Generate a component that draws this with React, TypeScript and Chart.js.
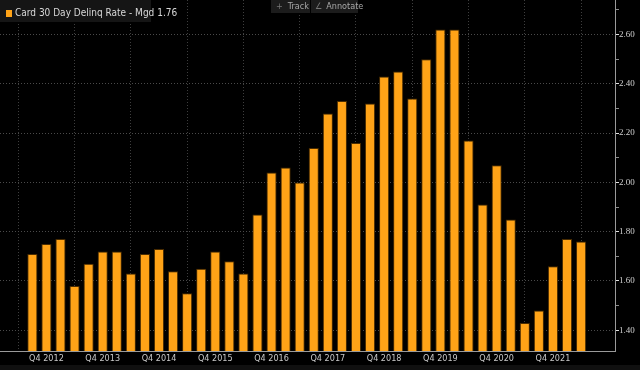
import React, { useEffect, useRef } from "react";
import { Chart, registerables } from "chart.js";

Chart.register(...registerables);

const QUARTERS = [
  "Q3 2012", "Q4 2012", "Q1 2013", "Q2 2013", "Q3 2013", "Q4 2013",
  "Q1 2014", "Q2 2014", "Q3 2014", "Q4 2014", "Q1 2015", "Q2 2015",
  "Q3 2015", "Q4 2015", "Q1 2016", "Q2 2016", "Q3 2016", "Q4 2016",
  "Q1 2017", "Q2 2017", "Q3 2017", "Q4 2017", "Q1 2018", "Q2 2018",
  "Q3 2018", "Q4 2018", "Q1 2019", "Q2 2019", "Q3 2019", "Q4 2019",
  "Q1 2020", "Q2 2020", "Q3 2020", "Q4 2020", "Q1 2021", "Q2 2021",
  "Q3 2021", "Q4 2021", "Q1 2022", "Q2 2022",
];

const RATES = [
  1.71, 1.75, 1.77, 1.58, 1.67, 1.72, 1.72, 1.63, 1.71, 1.73,
  1.64, 1.55, 1.65, 1.72, 1.68, 1.63, 1.87, 2.04, 2.06, 2.0,
  2.14, 2.28, 2.33, 2.16, 2.32, 2.43, 2.45, 2.34, 2.5, 2.62,
  2.62, 2.17, 1.91, 2.07, 1.85, 1.43, 1.48, 1.66, 1.77, 1.76,
];

const Y_TICKS = [1.4, 1.5, 1.6, 1.7, 1.8, 1.9, 2.0, 2.1, 2.2, 2.3, 2.4, 2.5, 2.6, 2.7];

const SERIES_NAME = "Card 30 Day Delinq Rate - Mgd";
const LAST_VALUE = "1.76";

const ORANGE = "#FFA317";
const NARROW = "'Liberation Sans Narrow', 'Arial Narrow', 'DejaVu Sans Condensed', 'Liberation Sans', sans-serif";
const SERIF = "'Liberation Serif', serif";

const isMajor = (v: number) => Math.abs(Math.round(v * 5) - v * 5) < 1e-6;

export default function App() {
  const canvasRef = useRef<HTMLCanvasElement | null>(null);

  useEffect(() => {
    const canvas = canvasRef.current;
    if (!canvas) return;
    const chart = new Chart(canvas, {
      type: "bar",
      data: {
        datasets: [
          {
            label: SERIES_NAME,
            data: RATES.map((v, i) => ({ x: i, y: v })),
            backgroundColor: ORANGE,
            borderColor: "#4a2c00",
            borderWidth: 1,
            barPercentage: 0.72,
            categoryPercentage: 1,
          },
        ],
      },
      options: {
        animation: false,
        responsive: false,
        maintainAspectRatio: false,
        layout: { padding: 0 },
        plugins: {
          legend: { display: false },
          tooltip: { enabled: false },
        },
        scales: {
          x: {
            type: "linear",
            min: -2.3,
            max: 41.41,
            offset: false,
            afterBuildTicks: (scale: any) => {
              scale.ticks = QUARTERS.map((q, i) => ({ value: i, q }))
                .filter((t) => t.q.startsWith("Q4"))
                .map((t) => ({ value: t.value }));
            },
            afterFit: (scale: any) => {
              scale.height = 19;
            },
            ticks: {
              autoSkip: false,
              maxRotation: 0,
              padding: 2,
              color: "#c8c8c8",
              font: { family: NARROW, size: 9 },
              callback: (v: any) => QUARTERS[Math.round(Number(v))] ?? "",
            },
            grid: {
              color: "#3e3e3e",
              drawTicks: false,
            } as any,
            border: { display: true, color: "#9a9a9a", width: 1, dash: [1, 2] } as any,
          },
          y: {
            type: "linear",
            position: "right",
            min: 1.316,
            max: 2.74,
            afterBuildTicks: (scale: any) => {
              scale.ticks = Y_TICKS.map((v) => ({ value: v }));
            },
            afterFit: (scale: any) => {
              scale.width = 25;
            },
            ticks: {
              padding: 0,
              color: "#d0d0d0",
              font: (ctx: any) =>
                ctx.tick && isMajor(ctx.tick.value)
                  ? { family: SERIF, size: 9 }
                  : { family: SERIF, size: 1, lineHeight: 0 },
              callback: (v: any) => (isMajor(Number(v)) ? Number(v).toFixed(2) : ""),
            },
            grid: {
              color: (ctx: any) => (ctx.tick && isMajor(ctx.tick.value) ? "#4a4a4a" : "rgba(0,0,0,0)"),
              tickColor: (ctx: any) => (ctx.tick && isMajor(ctx.tick.value) ? "#e0e0e0" : "#8a8a8a"),
              tickLength: 4,
              drawTicks: true,
            } as any,
            border: { display: true, color: "#9a9a9a", width: 1, dash: [1, 2] } as any,
          },
        },
      },
    });
    return () => chart.destroy();
  }, []);

  const btn: React.CSSProperties = {
    position: "absolute",
    top: 0,
    height: 13,
    background: "#1c1c1c",
    color: "#a8a8a8",
    fontFamily: NARROW,
    fontSize: 9,
    lineHeight: "13px",
    boxSizing: "border-box",
    whiteSpace: "nowrap",
  };

  return (
    <div
      style={{
        position: "absolute",
        left: 0,
        top: 0,
        width: 640,
        height: 370,
        background: "#000",
        overflow: "hidden",
      }}
    >
      <canvas ref={canvasRef} width={640} height={370} style={{ position: "absolute", left: 0, top: 0 }} />
      <div
        style={{
          position: "absolute",
          left: 0,
          top: 0,
          width: 151,
          height: 22,
          background: "#151515",
        }}
      >
        <div
          style={{
            position: "absolute",
            left: 6,
            top: 10,
            width: 6,
            height: 7,
            background: ORANGE,
          }}
        />
        <div
          style={{
            position: "absolute",
            left: 15,
            top: 7,
            color: "#d8d8d8",
            fontFamily: NARROW,
            fontSize: 10,
            lineHeight: "12px",
            whiteSpace: "nowrap",
          }}
        >
          {SERIES_NAME} {LAST_VALUE}
        </div>
      </div>
      <div style={{ ...btn, left: 271, width: 39, paddingLeft: 5 }}>
        <span style={{ color: "#777", marginRight: 5 }}>+</span>Track
      </div>
      <div style={{ ...btn, left: 311, width: 47, paddingLeft: 4 }}>
        <span style={{ color: "#777", marginRight: 4 }}>∠</span>Annotate
      </div>
      <div
        style={{
          position: "absolute",
          left: 0,
          top: 365,
          width: 640,
          height: 5,
          background: "#101010",
        }}
      />
    </div>
  );
}
